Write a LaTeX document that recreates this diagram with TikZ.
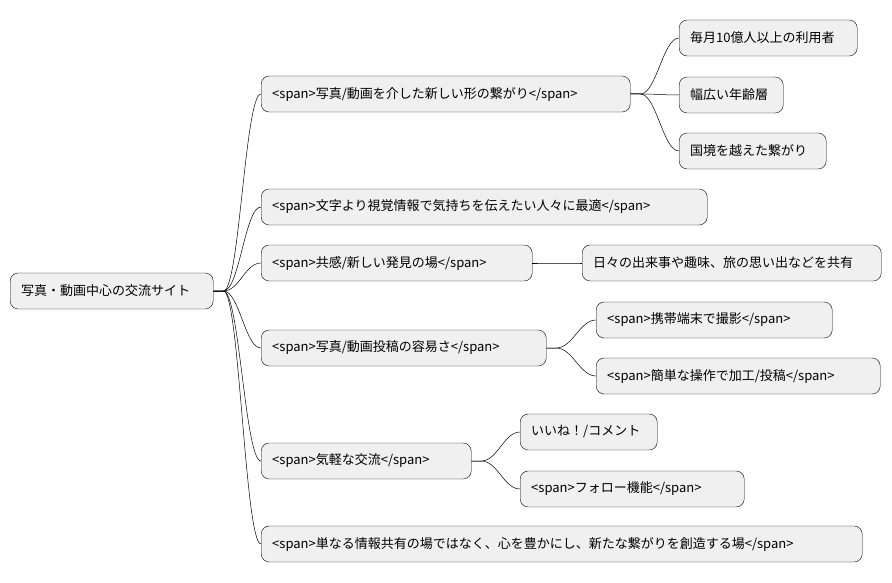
\documentclass[tikz,border=0pt]{standalone}
\usepackage{fontspec}
\setmainfont{Noto Sans CJK JP}
\usetikzlibrary{calc}
\begin{document}
\begin{tikzpicture}[x=1pt,y=-1pt,
  box/.style={draw=black,fill=black!6,rounded corners=8pt,minimum height=36pt,inner ysep=0pt,inner xsep=11pt,font=\fontsize{13pt}{15pt}\selectfont,anchor=west,align=left},
  ln/.style={draw=black,line width=0.5pt}]
\useasboundingbox (0,0) rectangle (892,583);
\newcommand\bx[5]{\node[box,text width=#3pt-22pt] (#1) at (#2,#4) {#5};}
\bx{r}{10}{203}{291}{写真・動画中心の交流サイト}
\bx{a}{261}{369}{94}{<span>写真/動画を介した新しい形の繋がり</span>}
\bx{b}{261}{446}{207}{<span>文字より視覚情報で気持ちを伝えたい人々に最適</span>}
\bx{c}{261}{271}{263}{<span>共感/新しい発見の場</span>}
\bx{d}{261}{285}{348}{<span>写真/動画投稿の容易さ</span>}
\bx{e}{261}{210}{461}{<span>気軽な交流</span>}
\bx{f}{261}{601}{544}{<span>単なる情報共有の場ではなく、心を豊かにし、新たな繋がりを創造する場</span>}
\bx{a1}{679}{178}{38}{毎月10億人以上の利用者}
\bx{a2}{679}{104}{95}{幅広い年齢層}
\bx{a3}{679}{147}{151}{国境を越えた繋がり}
\bx{c1}{582}{299}{263}{日々の出来事や趣味、旅の思い出などを共有}
\bx{d1}{596}{236}{320}{<span>携帯端末で撮影</span>}
\bx{d2}{596}{284}{376}{<span>簡単な操作で加工/投稿</span>}
\bx{e1}{520}{137}{432}{いいね！/コメント}
\bx{e2}{520}{224}{489}{<span>フォロー機能</span>}
\newcommand\cn[2]{\draw[ln] (#1.east) -- ++(10,0) coordinate (t) .. controls ($(t)+(16,0)$) and ($(#2.west)+(-16,0)$) .. (#2.west);}
\foreach \c in {a,b,c,d,e,f}{\cn{r}{\c}}
\foreach \c in {a1,a2,a3}{\cn{a}{\c}}
\cn{c}{c1}
\foreach \c in {d1,d2}{\cn{d}{\c}}
\foreach \c in {e1,e2}{\cn{e}{\c}}
\end{tikzpicture}
\end{document}
